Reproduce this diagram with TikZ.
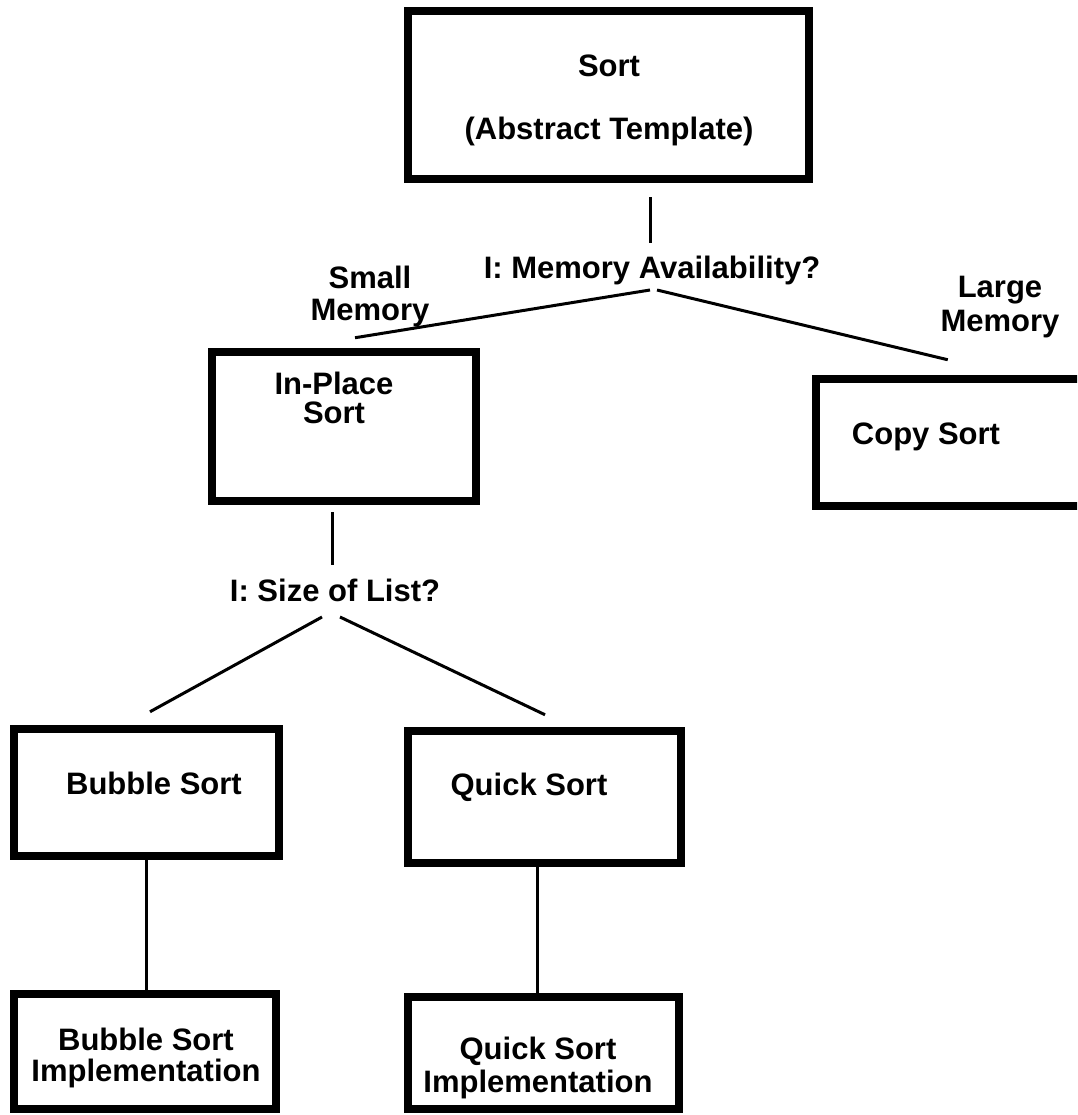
\documentclass[tikz,border=0pt]{standalone}
\usepackage{fontspec}
\setmainfont{Liberation Sans}
\begin{document}
\begin{tikzpicture}[x=1pt,y=-1pt,
  box/.style={draw, line width=8.5pt, rectangle, inner sep=0pt},
  conn/.style={line width=3pt},
  lbl/.style={font=\bfseries\fontsize{31}{32}\selectfont, align=center, inner sep=0pt}]
\fill[white] (0,0) rectangle (1077,1115);
\clip (0,0) rectangle (1077,1115);
% boxes
\node[box, minimum width=401pt, minimum height=168pt] (top) at (608.5,95) {};
\node[box, minimum width=264pt, minimum height=149pt] (inplace) at (344,426.5) {};
\node[box, minimum width=330pt, minimum height=127pt] (copybox) at (981,442.5) {};
\node[box, minimum width=265pt, minimum height=127pt] (bubble) at (146.5,792.5) {};
\node[box, minimum width=273pt, minimum height=132pt] (quick) at (544.5,797) {};
\node[box, minimum width=262pt, minimum height=115pt] (bimpl) at (145,1051.5) {};
\node[box, minimum width=271pt, minimum height=112pt] (qimpl) at (543.5,1053) {};
% texts
\node[lbl] (toptext) at (609,100.5) {Sort\\[31pt](Abstract Template)};
\node[lbl, font=\bfseries\fontsize{31}{29}\selectfont] (inplacetext) at (334,397.5) {In-Place\\Sort};
\node[lbl] (copytext) at (926,437) {Copy Sort};
\node[lbl] (bubbletext) at (154,783) {Bubble Sort};
\node[lbl] (quicktext) at (529,787) {Quick Sort};
\node[lbl, font=\bfseries\fontsize{31}{31}\selectfont] (bimpltext) at (146,1058) {Bubble Sort\\Implementation};
\node[lbl, font=\bfseries\fontsize{31}{33}\selectfont] (qimpltext) at (538,1068) {Quick Sort\\Implementation};
\node[lbl] (q1) at (652,270) {I: Memory Availability?};
\node[lbl] (q2) at (335,590) {I: Size of List?};
\node[lbl] (small) at (370,296) {Small\\Memory};
\node[lbl, font=\bfseries\fontsize{31}{34}\selectfont] (large) at (1000,307) {Large\\Memory};
% connectors
\draw[conn] ([shift={(41.5,14)}]top.south) -- ([shift={(-2,-27)}]q1.center);
\draw[conn] ([shift={(-2,20)}]q1.center) -- ([shift={(11,-10)}]inplace.north);
\draw[conn] ([shift={(5,20)}]q1.center) -- ([shift={(136,-15)}]copybox.north west);
\draw[conn] ([shift={(-12,7)}]inplace.south) -- ([shift={(-3,-25)}]q2.center);
\draw[conn] ([shift={(-13,27)}]q2.center) -- ([shift={(3.5,-13)}]bubble.north);
\draw[conn] ([shift={(5,27)}]q2.center) -- ([shift={(0.5,-12)}]quick.north);
\draw[conn] (bubble.south) -- (bubble.south |- bimpl.north);
\draw[conn] ([xshift=-7pt]quick.south) -- ([xshift=-7pt]quick.south |- qimpl.north);
\end{tikzpicture}
\end{document}
